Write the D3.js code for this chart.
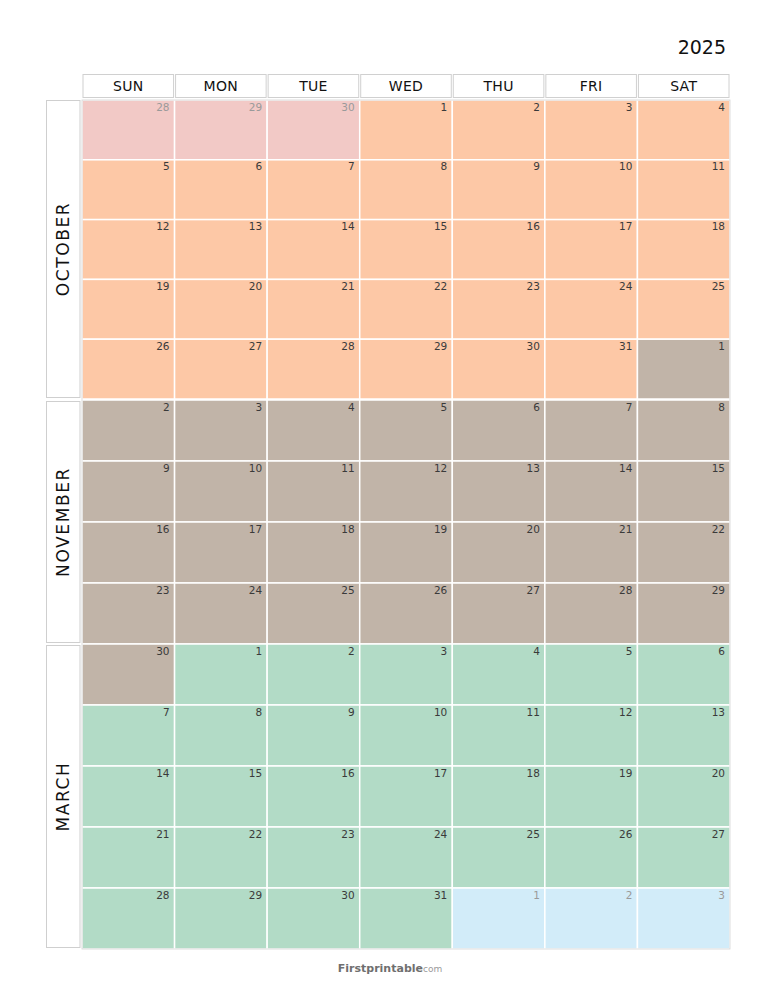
<!DOCTYPE html>
<html><head><meta charset="utf-8">
<script src="https://cdn.jsdelivr.net/npm/d3@7"></script>
<style>body{margin:0;background:#fff}svg{display:block}</style>
</head><body>
<script>
const year = "2025";
const weekdays = ["SUN","MON","TUE","WED","THU","FRI","SAT"];
const months = ["OCTOBER","NOVEMBER","MARCH"];
const octoberDays = [28,29,30,1,2,3,4,5,6,7,8,9,10,11,12,13,14,15,16,17,18,19,20,21,22,23,24,25,26,27,28,29,30,31,1];
const octoberKinds = ["prev","prev","prev","oct","oct","oct","oct","oct","oct","oct","oct","oct","oct","oct","oct","oct","oct","oct","oct","oct","oct","oct","oct","oct","oct","oct","oct","oct","oct","oct","oct","oct","oct","oct","nov"];
const novemberDays = [2,3,4,5,6,7,8,9,10,11,12,13,14,15,16,17,18,19,20,21,22,23,24,25,26,27,28,29];
const novemberKinds = ["nov","nov","nov","nov","nov","nov","nov","nov","nov","nov","nov","nov","nov","nov","nov","nov","nov","nov","nov","nov","nov","nov","nov","nov","nov","nov","nov","nov"];
const marchDays = [30,1,2,3,4,5,6,7,8,9,10,11,12,13,14,15,16,17,18,19,20,21,22,23,24,25,26,27,28,29,30,31,1,2,3];
const marchKinds = ["nov","mar","mar","mar","mar","mar","mar","mar","mar","mar","mar","mar","mar","mar","mar","mar","mar","mar","mar","mar","mar","mar","mar","mar","mar","mar","mar","mar","mar","mar","mar","mar","next","next","next"];
const kindNames = ["prev","oct","nov","mar","next"];
const kindColors = ["#f2c9c6","#fdc8a6","#c1b4a8","#b2dbc6","#d2ecf9"];
const kindText = ["#9a9a9a","#3a3a3a","#3a3a3a","#3a3a3a","#9a9a9a"];
const footerBrand = "Firstprintable";
const footerTld = ".com";

const W = 773, H = 1000;
const font = "'DejaVu Sans', sans-serif";
const svg = d3.select("body").append("svg").attr("width", W).attr("height", H);

const x = d3.scaleBand().domain(weekdays).range([82, 730]).paddingInner(0);
const fill = d3.scaleOrdinal().domain(kindNames).range(kindColors);
const tcol = d3.scaleOrdinal().domain(kindNames).range(kindText);

// year
svg.append("text").attr("x", 726).attr("y", 54).attr("text-anchor", "end")
  .attr("font-family", font).attr("font-size", 19).attr("fill", "#111").text(year);

// header
const hdr = svg.append("g");
weekdays.forEach(d => {
  hdr.append("rect").attr("x", x(d) + 1).attr("y", 74.5).attr("width", x.bandwidth() - 2).attr("height", 23)
    .attr("fill", "#fff").attr("stroke", "#d0d0d0").attr("stroke-width", 1);
  hdr.append("text").attr("x", x(d) + x.bandwidth() / 2).attr("y", 91).attr("text-anchor", "middle")
    .attr("font-family", font).attr("font-size", 14).attr("letter-spacing", 0.3).attr("fill", "#111").text(d);
});

const blocks = [
  {name: months[0], days: octoberDays, kinds: octoberKinds, y0: 100, y1: 399},
  {name: months[1], days: novemberDays, kinds: novemberKinds, y0: 400, y1: 644},
  {name: months[2], days: marchDays, kinds: marchKinds, y0: 644, y1: 949}
];

blocks.forEach((b, bi) => {
  const nRows = b.days.length / 7;
  const y = d3.scaleBand().domain(d3.range(nRows)).range([b.y0, b.y1]);
  const cells = b.days.map((d, i) => ({day: d, kind: b.kinds[i], col: weekdays[i % 7], row: Math.floor(i / 7)}));
  const g = svg.append("g");
  g.selectAll("rect").data(cells).join("rect")
    .attr("x", c => x(c.col)).attr("y", c => y(c.row))
    .attr("width", x.bandwidth()).attr("height", y.bandwidth())
    .attr("fill", c => fill(c.kind)).attr("stroke", "#fff").attr("stroke-width", 1.5);
  g.selectAll("text").data(cells).join("text")
    .attr("x", c => x(c.col) + x.bandwidth() - 5).attr("y", c => y(c.row) + 10.5)
    .attr("text-anchor", "end").attr("font-family", font).attr("font-size", 10.5)
    .attr("fill", c => tcol(c.kind)).text(c => c.day);
  // month label box
  const by0 = bi === 0 ? b.y0 : b.y0 + 1;
  const by1 = b.y1 - 1;
  svg.append("rect").attr("x", 46.5).attr("y", by0 + 0.5).attr("width", 33.5).attr("height", by1 - by0 - 1)
    .attr("fill", "#fff").attr("stroke", "#cfcfcf").attr("stroke-width", 1);
  const cy = (by0 + by1) / 2;
  svg.append("text").attr("transform", `translate(69,${cy}) rotate(-90)`).attr("text-anchor", "middle")
    .attr("font-family", font).attr("font-size", 17).attr("letter-spacing", 1.6).attr("fill", "#111").text(b.name);
});

// outer grid border
svg.append("rect").attr("x", 82).attr("y", 100).attr("width", 648).attr("height", 849)
  .attr("fill", "none").attr("stroke", "#d4d4d4").attr("stroke-width", 0.8);

// footer
const ft = svg.append("text").attr("x", 390).attr("y", 972).attr("text-anchor", "middle").attr("font-family", font);
ft.append("tspan").attr("font-size", 11).attr("font-weight", "bold").attr("fill", "#6f6f6f").text(footerBrand);
ft.append("tspan").attr("font-size", 9).attr("fill", "#9a9a9a").text(footerTld.replace(".", ""));
</script>
</body></html>
